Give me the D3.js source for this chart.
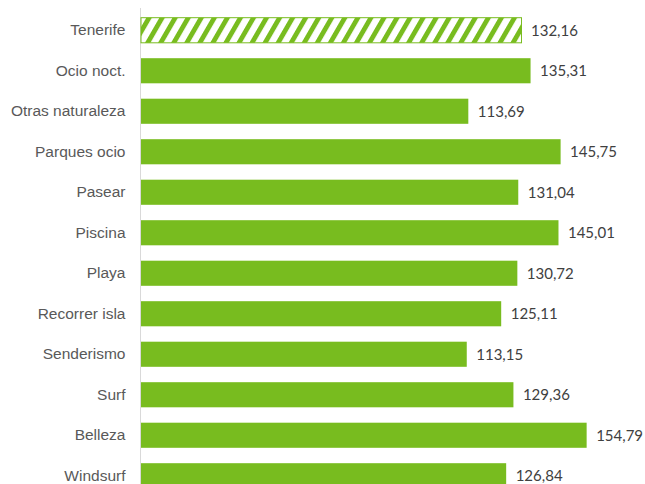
<!DOCTYPE html>
<html>
<head>
<meta charset="utf-8">
<script src="https://cdn.jsdelivr.net/npm/d3@7"></script>
<style>
  body { margin: 0; background: #fff; }
  svg { display: block; font-family: Lato, "Open Sans", sans-serif; }
  .cat { fill: #595959; font-size: 15.5px; }
  .val { fill: #404040; font-size: 15px; }
</style>
</head>
<body>
<svg width="645" height="484"></svg>
<script>
const categories = [
  "Tenerife", "Ocio noct.", "Otras naturaleza", "Parques ocio", "Pasear",
  "Piscina", "Playa", "Recorrer isla", "Senderismo", "Surf", "Belleza", "Windsurf"
];
const values = [
  132.16, 135.31, 113.69, 145.75, 131.04, 145.01,
  130.72, 125.11, 113.15, 129.36, 154.79, 126.84
];
const hatched = ["Tenerife"];

const svg = d3.select("svg");
const green = "#78bc1f";
const x0 = 141;
const unit = 2.879;

// diagonal hatch for the reference bar
const defs = svg.append("defs");
const pat = defs.append("pattern")
  .attr("id", "hatch")
  .attr("patternUnits", "userSpaceOnUse")
  .attr("width", 11.3)
  .attr("height", 11.3)
  .attr("patternTransform", "rotate(30)");
pat.append("rect").attr("width", 11.3).attr("height", 11.3).attr("fill", "#fff");
pat.append("rect").attr("width", 4.8).attr("height", 11.3).attr("fill", green);

const xScale = d3.scaleLinear().domain([0, 160]).range([x0, x0 + 160 * unit]);
const yScale = d3.scaleBand()
  .domain(categories)
  .range([10, 10 + 40.5 * categories.length])
  .paddingInner(0.38)
  .paddingOuter(0.19);

// category axis
const yAxis = d3.axisLeft(yScale).tickSize(0).tickPadding(15);
const ax = svg.append("g").attr("transform", `translate(${x0 - 0.5},0)`).call(yAxis);
ax.select(".domain").remove();
ax.selectAll("text").attr("class", "cat").attr("font-family", null).attr("font-size", null);
svg.append("line")
  .attr("x1", x0 - 0.5).attr("x2", x0 - 0.5)
  .attr("y1", 8).attr("y2", 484)
  .attr("stroke", "#d9d9d9");

const rows = categories.map((c, i) => ({ cat: c, val: values[i] }));

svg.append("g").selectAll("rect")
  .data(rows)
  .join("rect")
  .attr("x", xScale(0))
  .attr("y", d => yScale(d.cat))
  .attr("width", d => xScale(d.val) - xScale(0))
  .attr("height", yScale.bandwidth())
  .attr("fill", d => hatched.includes(d.cat) ? "url(#hatch)" : green)
  .attr("stroke", d => hatched.includes(d.cat) ? green : "none")
  .attr("stroke-width", 1);

svg.append("g").selectAll("text")
  .data(rows)
  .join("text")
  .attr("class", "val")
  .attr("x", d => xScale(d.val) + 9.5)
  .attr("y", d => yScale(d.cat) + yScale.bandwidth() / 2)
  .attr("dy", "0.35em")
  .text(d => d3.format(".2f")(d.val).replace(".", ","));
</script>
</body>
</html>
